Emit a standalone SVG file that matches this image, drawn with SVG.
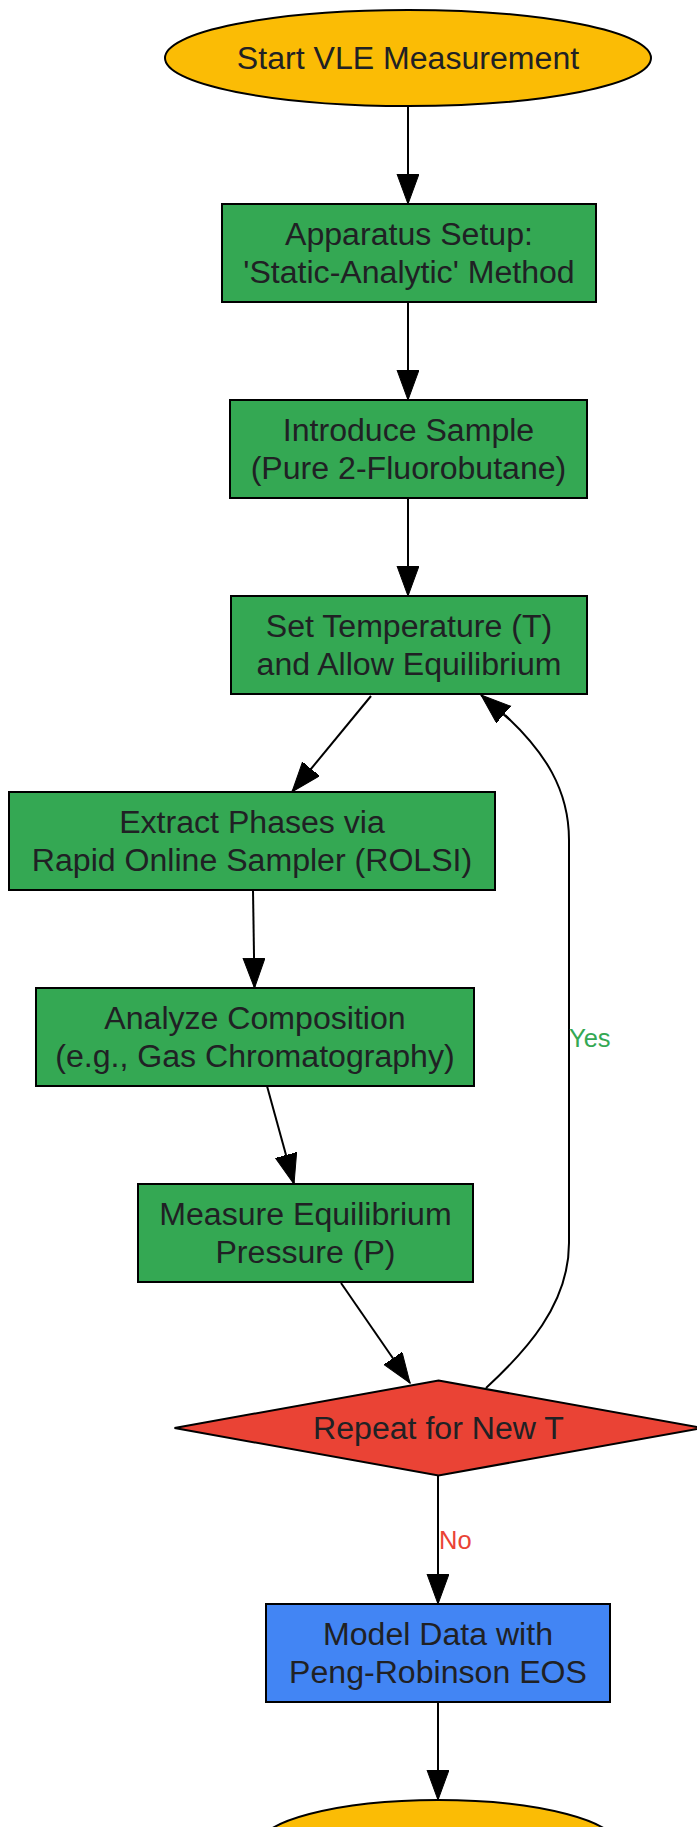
<svg xmlns="http://www.w3.org/2000/svg" width="697" height="1827" viewBox="0 0 697 1827">
<style>
.n{stroke:#000;stroke-width:2}
.t{font-family:"Liberation Sans",Arial,sans-serif;font-size:32.1px;fill:#202124;text-anchor:middle}
.e{fill:none;stroke:#000;stroke-width:2}
.lbl{font-family:"Liberation Sans",Arial,sans-serif;font-size:25.5px}
</style>
<defs>
<marker id="ah" markerUnits="userSpaceOnUse" markerWidth="31" markerHeight="23" refX="30" refY="11" orient="auto">
<path d="M0,0 L30,11 L0,22 z" fill="#000" stroke="#000" stroke-width="1"/>
</marker>
</defs>
<rect width="697" height="1827" fill="#fff"/>
<g id="edges">
<path class="e" d="M408,106 L408,204" marker-end="url(#ah)"/>
<path class="e" d="M408,302 L408,400" marker-end="url(#ah)"/>
<path class="e" d="M408,498 L408,596" marker-end="url(#ah)"/>
<path class="e" d="M371,696 L292,792" marker-end="url(#ah)"/>
<path class="e" d="M253,890 L254.5,988" marker-end="url(#ah)"/>
<path class="e" d="M267,1086 L294,1184" marker-end="url(#ah)"/>
<path class="e" d="M341,1283 L410,1383" marker-end="url(#ah)"/>
<path class="e" d="M486,1388 C525,1352 569,1305 569,1243 L569,840 C569,790 545,752 505,715" />
<path class="e" d="M510,720 L481,695" marker-end="url(#ah)"/>
<path class="e" d="M438,1476 L438,1604" marker-end="url(#ah)"/>
<path class="e" d="M438,1702 L438,1800" marker-end="url(#ah)"/>
<text class="lbl" x="569" y="1047" fill="#34A853">Yes</text>
<text class="lbl" x="439" y="1549" fill="#EA4335">No</text>
</g>
<g id="start">
<ellipse class="n" cx="408" cy="58" rx="243" ry="48" fill="#FBBC05"/>
<text class="t" x="408" y="69">Start VLE Measurement</text>
</g>
<g id="setup">
<rect class="n" x="222" y="204" width="374" height="98" fill="#34A853"/>
<text class="t" x="409" y="245">Apparatus Setup:</text>
<text class="t" x="409" y="283">'Static-Analytic' Method</text>
</g>
<g id="sample">
<rect class="n" x="230" y="400" width="357" height="98" fill="#34A853"/>
<text class="t" x="408.5" y="441">Introduce Sample</text>
<text class="t" x="408.5" y="479">(Pure 2-Fluorobutane)</text>
</g>
<g id="settemp">
<rect class="n" x="231" y="596" width="356" height="98" fill="#34A853"/>
<text class="t" x="409" y="637">Set Temperature (T)</text>
<text class="t" x="409" y="675">and Allow Equilibrium</text>
</g>
<g id="extract">
<rect class="n" x="9" y="792" width="486" height="98" fill="#34A853"/>
<text class="t" x="252" y="833">Extract Phases via</text>
<text class="t" x="252" y="871">Rapid Online Sampler (ROLSI)</text>
</g>
<g id="analyze">
<rect class="n" x="36" y="988" width="438" height="98" fill="#34A853"/>
<text class="t" x="255" y="1029">Analyze Composition</text>
<text class="t" x="255" y="1067">(e.g., Gas Chromatography)</text>
</g>
<g id="measure">
<rect class="n" x="138" y="1184" width="335" height="98" fill="#34A853"/>
<text class="t" x="305.5" y="1225">Measure Equilibrium</text>
<text class="t" x="305.5" y="1263">Pressure (P)</text>
</g>
<g id="decision">
<polygon class="n" points="438.5,1380.5 702.5,1428 438.5,1475.5 174.5,1428" fill="#EA4335"/>
<text class="t" x="438.5" y="1439">Repeat for New T</text>
</g>
<g id="model">
<rect class="n" x="266" y="1604" width="344" height="98" fill="#4285F4"/>
<text class="t" x="438" y="1645">Model Data with</text>
<text class="t" x="438" y="1683">Peng-Robinson EOS</text>
</g>
<g id="end">
<ellipse class="n" cx="438" cy="1848" rx="182" ry="48" fill="#FBBC05"/>
</g>
</svg>
